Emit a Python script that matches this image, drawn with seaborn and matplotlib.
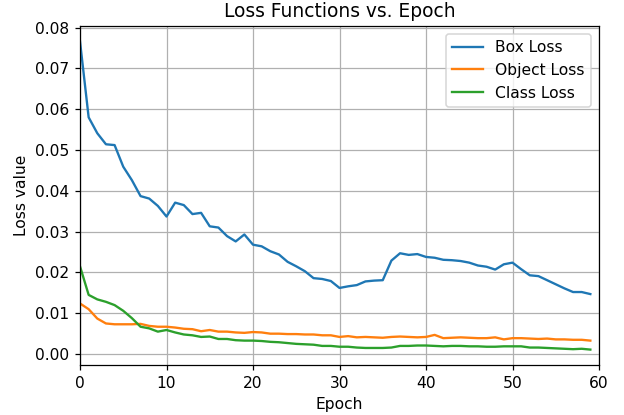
import matplotlib
matplotlib.use("Agg")
import matplotlib.pyplot as plt
import seaborn as sns
import pandas as pd
import numpy as np

epochs = list(range(60))
box_loss = [0.0766, 0.0580, 0.0541, 0.0514, 0.0512, 0.0459, 0.0426, 0.0387, 0.0381, 0.0363,
            0.0337, 0.0371, 0.0365, 0.0343, 0.0346, 0.0313, 0.0310, 0.0289, 0.0276, 0.0293,
            0.0268, 0.0264, 0.0252, 0.0244, 0.0226, 0.0215, 0.0203, 0.0186, 0.0184, 0.0179,
            0.0162, 0.0166, 0.0169, 0.0178, 0.0180, 0.0181, 0.0229, 0.0247, 0.0243, 0.0245,
            0.0238, 0.0236, 0.0231, 0.0230, 0.0228, 0.0224, 0.0217, 0.0214, 0.0207, 0.0220,
            0.0224, 0.0208, 0.0193, 0.0191, 0.0181, 0.0171, 0.0161, 0.0152, 0.0152, 0.0147]
object_loss = [0.0124, 0.0110, 0.0087, 0.0075, 0.0073, 0.0073, 0.0073, 0.0074, 0.0069, 0.0067,
               0.0067, 0.0065, 0.0062, 0.0061, 0.0056, 0.0059, 0.0055, 0.0055, 0.0053, 0.0052,
               0.0054, 0.0053, 0.0050, 0.0050, 0.0049, 0.0049, 0.0048, 0.0048, 0.0046, 0.0046,
               0.0042, 0.0044, 0.0041, 0.0042, 0.0041, 0.0040, 0.0042, 0.0043, 0.0042, 0.0041,
               0.0042, 0.0047, 0.0039, 0.0040, 0.0041, 0.0040, 0.0039, 0.0039, 0.0041, 0.0036,
               0.0039, 0.0039, 0.0038, 0.0037, 0.0038, 0.0036, 0.0036, 0.0035, 0.0035, 0.0033]
class_loss = [0.0215, 0.0145, 0.0134, 0.0128, 0.0120, 0.0106, 0.0088, 0.0067, 0.0063, 0.0055,
              0.0059, 0.0053, 0.0048, 0.0046, 0.0042, 0.0043, 0.0037, 0.0037, 0.0034, 0.0033,
              0.0033, 0.0032, 0.0030, 0.0029, 0.0027, 0.0025, 0.0024, 0.0023, 0.0020, 0.0020,
              0.0018, 0.0018, 0.0016, 0.0015, 0.0015, 0.0015, 0.0016, 0.0020, 0.0020, 0.0021,
              0.0021, 0.0020, 0.0019, 0.0020, 0.0020, 0.0019, 0.0019, 0.0018, 0.0018, 0.0019,
              0.0019, 0.0019, 0.0016, 0.0016, 0.0015, 0.0014, 0.0013, 0.0012, 0.0013, 0.0011]
series_names = ["Box Loss", "Object Loss", "Class Loss"]

df = pd.DataFrame({
    "Epoch": epochs * 3,
    "Loss": box_loss + object_loss + class_loss,
    "Series": [series_names[0]] * 60 + [series_names[1]] * 60 + [series_names[2]] * 60,
})

DPI = 112
fig, ax = plt.subplots(figsize=(624 / DPI, 415 / DPI), dpi=DPI)
sns.lineplot(data=df, x="Epoch", y="Loss", hue="Series", ax=ax,
             palette=["#1f77b4", "#ff7f0e", "#2ca02c"], linewidth=1.5)
ax.set_xlim(0, 60)
ax.set_title("Loss Functions vs. Epoch", fontsize=12)
ax.set_xlabel("Epoch")
ax.set_ylabel("Loss value")
ax.grid(True, color="#b0b0b0", linewidth=0.8)
ax.legend(title=None, loc="upper right")
fig.subplots_adjust(left=80 / 624, right=599 / 624, top=1 - 26 / 415, bottom=1 - 365 / 415)
fig.savefig("out.png", dpi=DPI)
